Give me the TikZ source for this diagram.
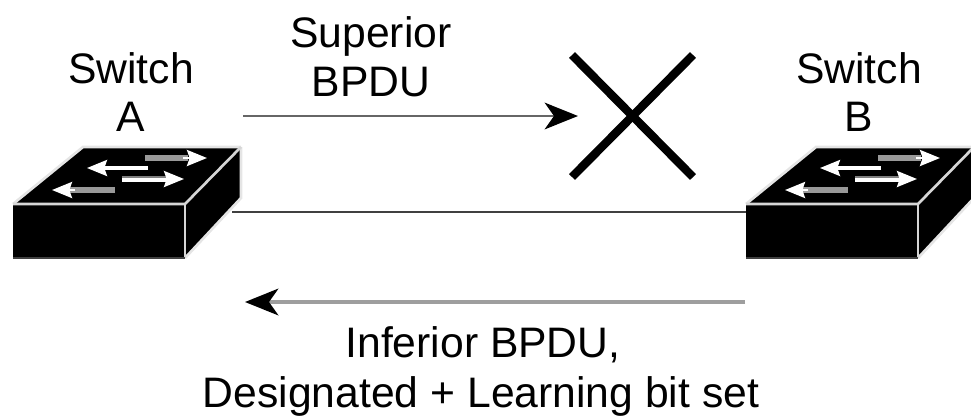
\documentclass[tikz,border=0pt]{standalone}
\usepackage{fontspec}
\setmainfont{Liberation Sans}
\usetikzlibrary{arrows.meta}
\definecolor{edgegray}{gray}{0.84}
\definecolor{paleedge}{gray}{0.9}
\definecolor{toplinegray}{gray}{0.4}
\definecolor{midlinegray}{gray}{0.25}
\definecolor{lowlinegray}{gray}{0.62}
\tikzset{
  x=0.75pt,y=-0.75pt,
  lbl/.style={font=\fontsize{32}{36.5}\selectfont,align=center,inner sep=0pt,text=black},
  widelbl/.style={font=\fontsize{32}{37.5}\selectfont,align=center,inner sep=0pt,text=black},
  bigtip/.style={-{Stealth[length=25pt,width=20pt,inset=7pt,black]}},
  edgeline/.style={draw=edgegray,line width=2pt},
  paleline/.style={draw=paleedge,line width=2pt},
  greybar/.style={draw=gray!80,line width=4pt},
  whitebar/.style={draw=white,line width=3pt},
  whitetip/.style={draw=white,line width=2pt,-{Stealth[length=15pt,width=12pt,inset=2pt,white]}},
  switchpic/.pic={
    % local origin: top-left corner of the front face
    \fill[black] (0,0) -- (70,-57) -- (228,-57) -- (228,-6) -- (172,54) -- (0,54) -- cycle;
    \draw[paleline] (0,0) -- (70,-57) -- (228,-57);
    \draw[paleline] (228,-57) -- (228,-6) -- (172,54);
    \draw[edgeline] (0,0) -- (172,0) -- (228,-57);
    \draw[edgeline] (172,0) -- (172,54);
    \draw[draw=midlinegray,line width=2pt] (0,54) -- (172,54);
    % arrows on the top face
    \draw[greybar] (132,-46) -- (175,-46);
    \draw[whitetip] (170,-46) -- (194,-46);
    \draw[whitebar] (135,-36) -- (90,-36);
    \draw[whitetip] (95,-36) -- (74,-36);
    \draw[draw=gray,line width=1.5pt] (109,-27) -- (160,-27);
    \draw[whitebar] (109,-24) -- (160,-24);
    \draw[whitetip] (152,-25) -- (171,-25);
    \draw[greybar] (102,-14) -- (55,-14);
    \draw[whitetip] (62,-14) -- (39,-14);
    \coordinate (-e) at (219,8);
    \coordinate (-w) at (0,8);
  }
}
\begin{document}
\begin{tikzpicture}
\useasboundingbox (0,0) rectangle (971,415);
\clip (0,0) rectangle (971,415);
\pic (swA) at (13,204) {switchpic};
\pic (swB) at (746,204) {switchpic};
\coordinate (supstart) at (243,116);
\coordinate (supend) at (578,116);
\coordinate (infstart) at (745,302);
\coordinate (infend) at (245,302);
\coordinate (xa) at (572,55);
\coordinate (xb) at (693,177);
\coordinate (xc) at (693,55);
\coordinate (xd) at (572,177);
\draw[draw=midlinegray,line width=2pt] (swA-e) -- (swB-w);
\draw[draw=toplinegray,line width=2pt,bigtip] (supstart) -- (supend);
\draw[draw=lowlinegray,line width=2.6pt,bigtip] (infstart) -- (infend);
\draw[line width=6.3pt,black] (xa) -- (xb);
\draw[line width=6.3pt,black] (xc) -- (xd);
\node[lbl] (swa) at (131,92) {Switch\\A};
\node[lbl] (swb) at (859,92) {Switch\\B};
\node[lbl] (sup) at (371,57) {Superior\\BPDU};
\node[widelbl] (inf) at (481,371.5) {\hspace*{3pt}Inferior BPDU,\\Designated + Learning bit set};
\end{tikzpicture}
\end{document}
